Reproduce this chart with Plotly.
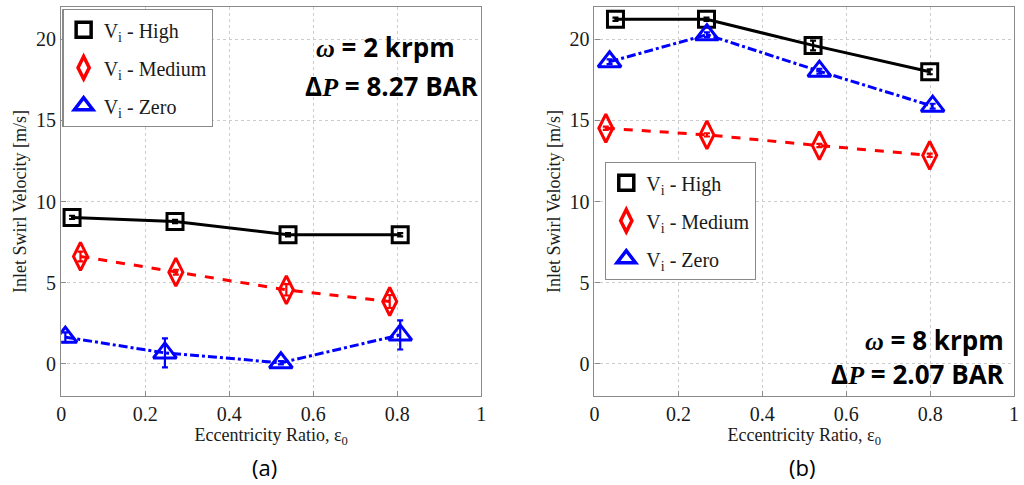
import plotly.graph_objects as go

# ---- data: panel (a) omega = 2 krpm
a_high_x = [0.026, 0.271, 0.540, 0.807]
a_high_y = [9.02, 8.77, 7.95, 7.95]
a_high_e = [0.1, 0.1, 0.1, 0.1]
a_med_x = [0.046, 0.273, 0.536, 0.782]
a_med_y = [6.61, 5.64, 4.55, 3.83]
a_med_e = [0.3, 0.15, 0.35, 0.4]
a_zero_x = [0.010, 0.247, 0.523, 0.807]
a_zero_y = [1.63, 0.66, 0.05, 1.77]
a_zero_e = [0.3, 0.9, 0.1, 0.9]

# ---- data: panel (b) omega = 8 krpm
b_high_x = [0.050, 0.267, 0.521, 0.799]
b_high_y = [21.24, 21.24, 19.63, 18.0]
b_high_e = [0.1, 0.1, 0.3, 0.15]
b_med_x = [0.027, 0.268, 0.536, 0.799]
b_med_y = [14.52, 14.11, 13.45, 12.85]
b_med_e = [0.1, 0.1, 0.1, 0.1]
b_zero_x = [0.036, 0.268, 0.536, 0.806]
b_zero_y = [18.62, 20.29, 18.04, 15.88]
b_zero_e = [0.15, 0.15, 0.15, 0.15]

series_names = ["V<sub>i</sub> - High", "V<sub>i</sub> - Medium", "V<sub>i</sub> - Zero"]
x_ticks = [0, 0.2, 0.4, 0.6, 0.8, 1]
x_tick_text = ["0", "0.2", "0.4", "0.6", "0.8", "1"]
y_ticks = [0, 5, 10, 15, 20]

styles = [
    dict(color="black", symbol="square-open", dash="solid", size=16),
    dict(color="#ff0000", symbol="diamond-tall-open", dash="dash", size=20),
    dict(color="#0000ff", symbol="triangle-up-open", dash="dashdot", size=20),
]

SERIF = "Liberation Serif, Times New Roman, serif"

fig = go.Figure()

panels = [
    ("x", "y", "legend", [(a_high_x, a_high_y, a_high_e), (a_med_x, a_med_y, a_med_e), (a_zero_x, a_zero_y, a_zero_e)]),
    ("x2", "y2", "legend2", [(b_high_x, b_high_y, b_high_e), (b_med_x, b_med_y, b_med_e), (b_zero_x, b_zero_y, b_zero_e)]),
]

for xa, ya, lg, data in panels:
    for i, ((xs, ys, es), st) in enumerate(zip(data, styles)):
        fig.add_trace(go.Scatter(
            x=xs, y=ys, xaxis=xa, yaxis=ya, mode="lines+markers",
            line=dict(color=st["color"], width=3, dash=st["dash"]),
            marker=dict(symbol=st["symbol"], size=st["size"], color=st["color"],
                        line=dict(width=3, color=st["color"])),
            error_y=dict(type="data", array=es, visible=True, color=st["color"],
                         thickness=2.2, width=3),
            showlegend=False, hoverinfo="skip"))
    for i, st in enumerate(styles):
        fig.add_trace(go.Scatter(
            x=[None], y=[None], xaxis=xa, yaxis=ya, mode="markers",
            marker=dict(symbol=st["symbol"], size=st["size"] - 1, color=st["color"],
                        line=dict(width=3.5, color=st["color"])),
            name=series_names[i], legend=lg, legendgroup=lg + str(i),
            showlegend=True))

ydom = [1 - 396 / 485, 1 - 7 / 485]
axis_common = dict(
    showline=True, linecolor="#8a8a8a", linewidth=1.2, mirror=True,
    showgrid=True, gridcolor="#cccccc", griddash="dot", gridwidth=1,
    ticks="inside", ticklen=5, tickcolor="#8a8a8a", zeroline=False,
    tickfont=dict(family=SERIF, size=20, color="#1a1a1a"),
)
xt = dict(text="Eccentricity Ratio, ε<sub>0</sub>", font=dict(family=SERIF, size=18, color="#1a1a1a"), standoff=2)
yt = dict(text="Inlet Swirl Velocity [m/s]", font=dict(family=SERIF, size=18, color="#1a1a1a"), standoff=4)

legend_common = dict(xanchor="left", yanchor="top", bordercolor="#8a8a8a", borderwidth=1.2,
                     bgcolor="white", font=dict(family=SERIF, size=20, color="#1a1a1a"),
                     tracegroupgap=9, itemwidth=30)

fig.update_layout(
    width=1024, height=485, margin=dict(l=0, r=0, t=0, b=0),
    paper_bgcolor="white", plot_bgcolor="white",
    xaxis=dict(domain=[56.7 / 1024, 481 / 1024], range=[0, 1], tickvals=x_ticks, ticktext=x_tick_text,
               anchor="y", title=xt, **axis_common),
    yaxis=dict(domain=ydom, range=[-2, 22], tickvals=y_ticks, anchor="x", title=yt, **axis_common),
    xaxis2=dict(domain=[595.3 / 1024, 1019 / 1024], range=[0, 1], tickvals=x_ticks, ticktext=x_tick_text,
                anchor="y2", title=xt, **axis_common),
    yaxis2=dict(domain=ydom, range=[-2, 22], tickvals=y_ticks, anchor="x2", title=yt, **axis_common),
    legend=dict(x=58 / 1024, y=1 - 9 / 485, **legend_common),
    legend2=dict(x=606 / 1024, y=1 - 162 / 485, **legend_common),
)

BOLD = "Open Sans, Lato, sans-serif"
OM = "<span style='font-family:Liberation Serif'><i>ω</i></span>"
PP = "<span style='font-family:Liberation Serif'><i>P</i></span>"
ann = [
    dict(text=f"<b>{OM} = 2 krpm</b>", x=456 / 1024, y=1 - 47 / 485),
    dict(text=f"<b>Δ{PP} = 8.27 BAR</b>", x=481 / 1024, y=1 - 86 / 485),
    dict(text=f"<b>{OM} = 8 krpm</b><br><b>Δ{PP} = 2.07 BAR</b>", x=1012 / 1024, y=1 - 357 / 485),
]
for a in ann:
    fig.add_annotation(xref="paper", yref="paper", xanchor="right", yanchor="middle", align="right",
                       showarrow=False, font=dict(family=BOLD, size=26, color="black"), **a)

for txt, xc in [("(a)", 262), ("(b)", 805)]:
    fig.add_annotation(text=txt, xref="paper", yref="paper", x=xc / 1024, y=1 - 467 / 485,
                       xanchor="center", yanchor="middle", showarrow=False,
                       font=dict(family="Open Sans, sans-serif", size=22, color="black"))

fig.write_html("out.html")
